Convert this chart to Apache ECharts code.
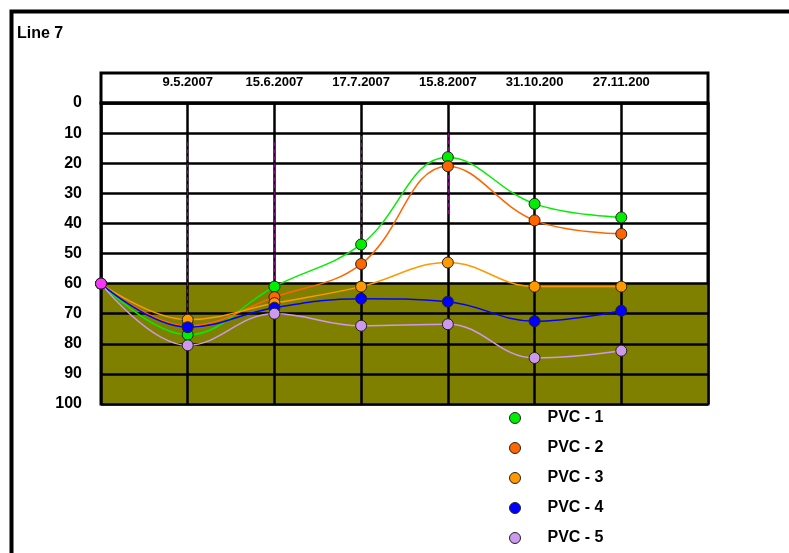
<!DOCTYPE html>
<html>
<head>
<meta charset="utf-8">
<title>Line 7</title>
<script src="https://cdn.jsdelivr.net/npm/echarts@6/dist/echarts.min.js"></script>
<style>
  html, body { margin: 0; padding: 0; background: #fff; }
  #main { width: 789px; height: 553px; }
</style>
</head>
<body>
<div id="main"></div>
<script>
// categories: first and last slot are empty (start point / right margin)
var dates = ['', '9.5.2007', '15.6.2007', '17.7.2007', '15.8.2007', '31.10.200', '27.11.200', ''];
var yTicks = [0, 10, 20, 30, 40, 50, 60, 70, 80, 90, 100];
var names = ['PVC - 1', 'PVC - 2', 'PVC - 3', 'PVC - 4', 'PVC - 5'];
var colors = ['#00ee00', '#ff6600', '#ff9900', '#0000ff', '#cc99ee'];
var pvc1 = [60, 77, 61, 47, 18, 33.5, 38];
var pvc2 = [60, 74, 64.5, 53.5, 21, 39, 43.5];
var pvc3 = [60, 72, 66.5, 61, 53, 61, 61];
var pvc4 = [60, 74.5, 68, 65, 66, 72.5, 69];
var pvc5 = [60, 80.5, 70, 74, 73.5, 84.7, 82.3];
var allData = [pvc1, pvc2, pvc3, pvc4, pvc5];
// dashed purple drop lines: [category, from, to]
var drops = [[1, 13, 70], [2, 13, 61], [3, 11, 47], [4, 10, 37]];

var chart = echarts.init(document.getElementById('main'));
var font = 'Liberation Sans, Arial, sans-serif';

var series = [{
  // holder for the olive band and drop lines
  type: 'line', xAxisIndex: 1, yAxisIndex: 1, data: [], z: 0,
  silent: true,
  markArea: {
    silent: true,
    z: 0,
    itemStyle: { color: '#808000', opacity: 1 },
    data: [[{ yAxis: 60 }, { yAxis: 100 }]]
  }
}, {
  type: 'line', xAxisIndex: 1, yAxisIndex: 1, data: [], z: 4,
  silent: true,
  markLine: {
    silent: true, z: 4,
    symbol: 'none',
    label: { show: false },
    lineStyle: { color: '#8a008a', type: [4, 3], width: 1.2 },
    data: drops.map(function (d) {
      return [{ coord: [d[0], d[1]] }, { coord: [d[0], d[2]] }];
    })
  }
}];
allData.forEach(function (d, i) {
  series.push({
    name: names[i],
    type: 'line',
    xAxisIndex: 1, yAxisIndex: 1,
    smooth: 0.4,
    z: 5,
    symbol: 'circle',
    symbolSize: 11,
    lineStyle: { color: colors[i], width: 1.5 },
    itemStyle: { color: colors[i], borderColor: '#222', borderWidth: 1 },
    data: d.map(function (v, j) {
      if (i === 4 && j === 0) return { value: v, itemStyle: { color: '#ff33ff' } };
      return v;
    })
  });
});

chart.setOption({
  animation: false,
  backgroundColor: '#fff',
  textStyle: { fontFamily: font },
  graphic: [{
    type: 'rect', left: 9, top: 9,
    shape: { width: 820, height: 600 },
    style: { fill: 'none', stroke: '#000', lineWidth: 4 }
  }, {
    type: 'text', left: 17, top: 26,
    style: { text: 'Line 7', font: 'bold 16px ' + font, fill: '#000' }
  }],
  legend: {
    orient: 'vertical',
    left: 509, top: 409,
    padding: 0,
    itemWidth: 11, itemHeight: 11, itemGap: 12,
    icon: 'circle',
    data: names,
    itemStyle: { borderColor: '#222', borderWidth: 1 },
    textStyle: { fontSize: 16, fontWeight: 'bold', color: '#000', lineHeight: 18, padding: [0, 0, 0, 22] }
  },
  grid: [
    { left: 101, right: 81, top: 73, height: 30, show: true, borderColor: '#000', borderWidth: 3, backgroundColor: 'transparent' },
    { left: 101, right: 81, top: 103, bottom: 149, show: true, borderColor: '#000', borderWidth: 3, backgroundColor: 'transparent' }
  ],
  xAxis: [{
    gridIndex: 0, type: 'category', data: dates, boundaryGap: false,
    position: 'top',
    axisLine: { show: false }, axisTick: { show: false }, splitLine: { show: false },
    axisLabel: { inside: true, margin: 3, interval: 0, fontSize: 13, fontWeight: 'bold', color: '#000', verticalAlign: 'top' }
  }, {
    gridIndex: 1, type: 'category', data: dates, boundaryGap: false, z: 3,
    axisLine: { show: false }, axisTick: { show: false }, axisLabel: { show: false },
    splitLine: { show: true, interval: 0, lineStyle: { color: '#000', width: 2.5 } }
  }],
  yAxis: [{
    gridIndex: 0, type: 'value', show: false
  }, {
    gridIndex: 1, type: 'value', min: 0, max: 100, interval: 10, inverse: true, z: 3,
    axisLine: { show: false }, axisTick: { show: false },
    axisLabel: { margin: 19, fontSize: 16, fontWeight: 'bold', color: '#000',
      formatter: function (v) { return yTicks.indexOf(v) >= 0 ? String(v) : ''; } },
    splitLine: { show: true, lineStyle: { color: '#000', width: 2.5 } }
  }],
  tooltip: { show: false },
  series: series
});
</script>
</body>
</html>
